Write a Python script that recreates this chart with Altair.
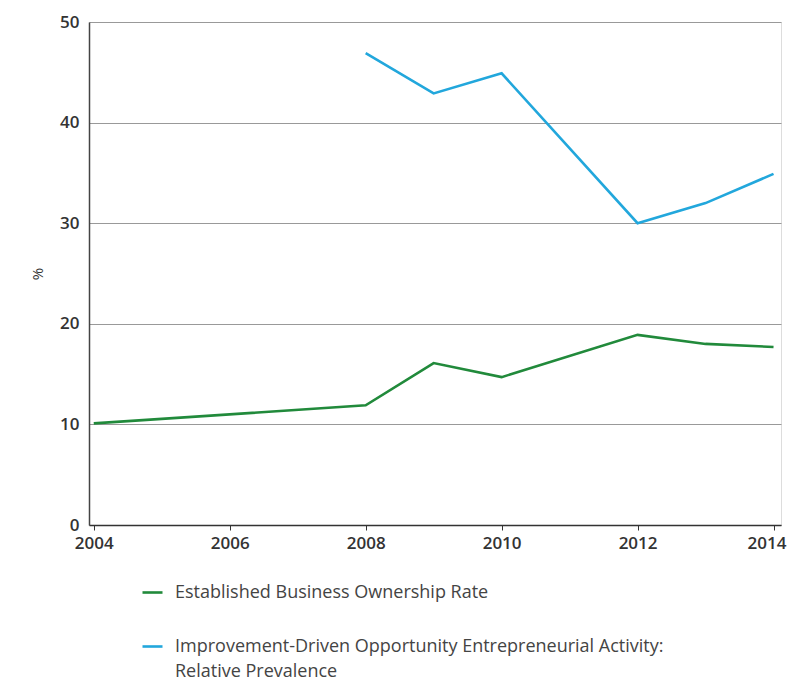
import altair as alt
import pandas as pd

years_green = [2004, 2008, 2009, 2010, 2012, 2013, 2014]
values_green = [10.1, 11.9, 16.1, 14.7, 18.9, 18.0, 17.7]
years_blue = [2008, 2009, 2010, 2012, 2013, 2014]
values_blue = [46.9, 42.9, 44.9, 30.0, 32.0, 34.9]

s_green = "Established Business Ownership Rate"
s_blue = "Improvement-Driven Opportunity Entrepreneurial Activity: Relative Prevalence"

rows = [{"year": y, "value": v, "series": s_green} for y, v in zip(years_green, values_green)]
rows += [{"year": y, "value": v, "series": s_blue} for y, v in zip(years_blue, values_blue)]
df = pd.DataFrame(rows)

FONT = "Open Sans"

chart = alt.Chart(df).mark_line(strokeWidth=2.6).encode(
    x=alt.X("year:Q",
            scale=alt.Scale(domain=[2003.93, 2014.11], nice=False, zero=False),
            axis=alt.Axis(values=[2004, 2006, 2008, 2010, 2012, 2014], format="d",
                          grid=False, title=None, tickSize=5, tickColor="#333",
                          domainColor="#333", domainWidth=1.5, labelPadding=5,
                          labelFontSize=17, labelFontWeight=600, labelColor="#333",
                          labelFont=FONT,
                          labelOffset={"condition": {"test": "datum.value == 2014", "value": -7},
                                       "value": 0})),
    y=alt.Y("value:Q",
            scale=alt.Scale(domain=[0, 50], nice=False),
            axis=alt.Axis(values=[0, 10, 20, 30, 40, 50], grid=True, gridColor="#999",
                          gridWidth=1.2, ticks=False, domainColor="#444", domainWidth=1.5,
                          labelPadding=10, labelFontSize=17, labelFontWeight=600,
                          labelColor="#333", labelFont=FONT,
                          title="%", titleFont=FONT, titleFontSize=15,
                          titleFontWeight="normal", titleColor="#333", titlePadding=14)),
    color=alt.Color("series:N",
                    scale=alt.Scale(domain=[s_green, s_blue], range=["#218a3b", "#22a7dc"]),
                    legend=alt.Legend(
                        title=None, orient="none", legendX=52, legendY=559,
                        symbolType="stroke", symbolStrokeWidth=2.6, symbolSize=400,
                        labelFont=FONT, labelFontSize=18, labelColor="#444",
                        labelLimit=0, rowPadding=33, labelOffset=11,
                        labelExpr="datum.label == '" + s_blue + "' ? ['Improvement-Driven Opportunity Entrepreneurial Activity:', 'Relative Prevalence'] : datum.label",
                    )),
).properties(
    width=692, height=503,
    autosize=alt.AutoSizeParams(type="none"),
    padding={"left": 81, "top": 14, "right": 6, "bottom": 153},
).configure_view(stroke="#bbb", strokeWidth=1.2).configure(
    background="white",
    style={"guide-label": {"lineHeight": 25}},
)

chart.save("out.html", embed_options={"renderer": "svg", "actions": False})
